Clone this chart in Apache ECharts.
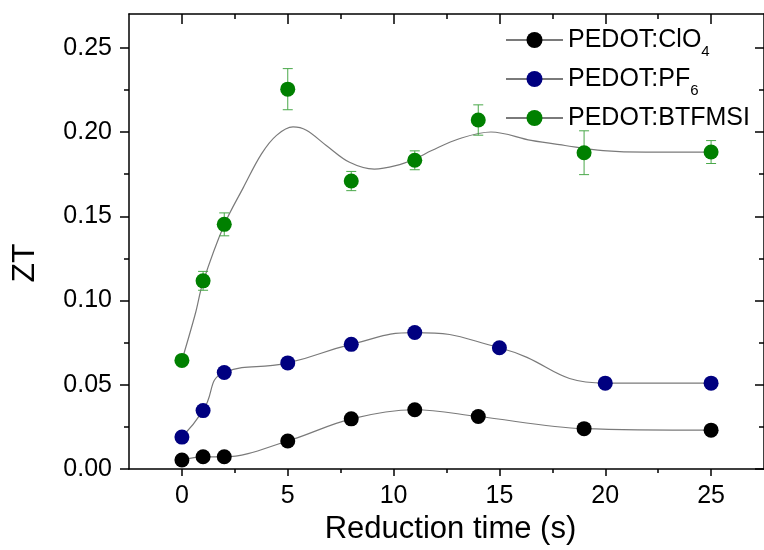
<!DOCTYPE html>
<html><head><meta charset="utf-8">
<script src="https://cdn.jsdelivr.net/npm/echarts@6/dist/echarts.min.js"></script>
<style>html,body{margin:0;padding:0;background:#fff}#c{width:764px;height:550px}</style>
</head><body><div id="c"></div>
<script>
// ---- data ----
const clo4T = [0, 1, 2, 5, 8, 11, 14, 19, 25];
const clo4V = [0.0054, 0.0073, 0.0073, 0.0167, 0.0298, 0.0352, 0.0312, 0.0240, 0.0231];
const pf6T = [0, 1, 2, 5, 8, 11, 15, 20, 25];
const pf6V = [0.0190, 0.0347, 0.0573, 0.0630, 0.0740, 0.0810, 0.0720, 0.0510, 0.0510];
const btfT = [0, 1, 2, 5, 8, 11, 14, 19, 25];
const btfV = [0.0645, 0.1117, 0.1452, 0.2254, 0.1709, 0.1832, 0.2071, 0.1877, 0.1881];
const btfErr = [0, 0.0056, 0.0068, 0.0122, 0.0057, 0.0056, 0.0090, 0.0130, 0.0068];
// fitted curve for BTFMSI
const btfFitT = [0, 0.63, 1, 2, 2.9, 3.76, 4.47, 5.25, 5.88, 6.82, 7.92, 9.09, 10.1, 11, 11.8, 13.1, 14.6, 16.5, 18.1, 19.9, 21.9, 25];
const btfFitV = [0.0645, 0.092, 0.111, 0.145, 0.167, 0.187, 0.198, 0.203, 0.201, 0.192, 0.182, 0.178, 0.180, 0.184, 0.189, 0.196, 0.200, 0.195, 0.192, 0.189, 0.188, 0.188];
const seriesNames = ['PEDOT:ClO4', 'PEDOT:PF6', 'PEDOT:BTFMSI'];
const xTicks = [0, 5, 10, 15, 20, 25];
const xMinorTicks = [2.5, 7.5, 12.5, 17.5, 22.5];
const yTicks = [0, 0.05, 0.10, 0.15, 0.20, 0.25];
const yMinorTicks = [0.025, 0.075, 0.125, 0.175, 0.225];
const xTitle = 'Reduction time (s)';
const yTitle = 'ZT';

const FONT = 'Liberation Sans, Arial, sans-serif';
const AX = '#000';
const pairs = (xs, ys) => xs.map((x, i) => [x, ys[i]]);

function xAx(pos, showLine, ticks, len, inside, labels) {
  return {
    type: 'value', position: pos, min: -2.5, max: 27.5,
    axisLine: { show: showLine, onZero: false, lineStyle: { color: AX, width: 1.5 } },
    axisTick: { show: true, inside: inside, length: len, customValues: ticks, lineStyle: { color: AX, width: 1.5 } },
    axisLabel: labels ? { show: true, customValues: xTicks, margin: 15, fontSize: 25, color: '#000', fontFamily: FONT } : { show: false },
    splitLine: { show: false }
  };
}
function yAx(pos, showLine, ticks, len, inside, labels) {
  return {
    type: 'value', position: pos, min: 0, max: 0.27,
    axisLine: { show: showLine, onZero: false, lineStyle: { color: AX, width: 1.5 } },
    axisTick: { show: true, inside: inside, length: len, customValues: ticks, lineStyle: { color: AX, width: 1.5 } },
    axisLabel: labels ? { show: true, customValues: yTicks, margin: 17, fontSize: 25, color: '#000', fontFamily: FONT, formatter: v => v.toFixed(2) } : { show: false },
    splitLine: { show: false }
  };
}

const xAxes = [
  xAx('bottom', true, xTicks, 7, false, true),
  xAx('bottom', false, xMinorTicks, 4, false, false),
  xAx('top', true, xTicks, 10, true, false),
  xAx('top', false, xMinorTicks, 5, true, false)
];
xAxes[0].name = xTitle;
xAxes[0].nameLocation = 'middle';
xAxes[0].nameGap = 33;
xAxes[0].nameTextStyle = { fontSize: 31, color: '#000', fontFamily: FONT, padding: [0, 0, 0, 8] };

const yAxes = [
  yAx('left', true, yTicks, 9, false, true),
  yAx('left', false, yMinorTicks, 5, false, false),
  yAx('right', true, yTicks, 9, true, false),
  yAx('right', false, yMinorTicks, 5, true, false)
];
yAxes[0].name = yTitle;
yAxes[0].nameLocation = 'middle';
yAxes[0].nameGap = 88;
yAxes[0].nameTextStyle = { fontSize: 32, color: '#000', fontFamily: FONT, padding: [0, 43, 0, 0] };

const chart = echarts.init(document.getElementById('c'), null, { renderer: 'canvas' });
chart.setOption({
  animation: false,
  backgroundColor: '#fff',
  grid: { left: 129, top: 14, width: 637, height: 464, containLabel: false },
  xAxis: xAxes,
  yAxis: yAxes,
  legend: {
    data: seriesNames,
    orient: 'vertical', left: 505, top: 21, padding: 0,
    itemWidth: 57, itemHeight: 20, itemGap: 1,
    textStyle: {
      fontSize: 25, color: '#000', fontFamily: FONT, lineHeight: 38,
      rich: { s: { fontSize: 15, fontFamily: FONT, color: '#000', lineHeight: 15, verticalAlign: 'bottom' } }
    },
    formatter: n => n.replace(/(\d)$/, '{s|$1}')
  },
  series: [
    {
      name: seriesNames[2], type: 'line', smooth: 0.35, symbol: 'circle', showSymbol: false,
      data: pairs(btfFitT, btfFitV),
      itemStyle: { color: '#008000' },
      lineStyle: { color: '#7a7a7a', width: 1.2 }, z: 2
    },
    {
      name: 'btfErr', type: 'custom', z: 3,
      data: btfT.map((t, i) => [t, btfV[i], btfErr[i]]),
      renderItem: function (params, api) {
        const x = api.value(0), y = api.value(1), e = api.value(2);
        if (!e) return null;
        const top = api.coord([x, y + e]), bot = api.coord([x, y - e]);
        const w = 5, st = { stroke: '#4aa84a', lineWidth: 1 };
        return {
          type: 'group', children: [
            { type: 'line', shape: { x1: top[0], y1: top[1], x2: bot[0], y2: bot[1] }, style: st },
            { type: 'line', shape: { x1: top[0] - w, y1: top[1], x2: top[0] + w, y2: top[1] }, style: st },
            { type: 'line', shape: { x1: bot[0] - w, y1: bot[1], x2: bot[0] + w, y2: bot[1] }, style: st }
          ]
        };
      }
    },
    {
      name: 'btfPts', type: 'scatter', symbol: 'circle', symbolSize: 15,
      data: pairs(btfT, btfV), itemStyle: { color: '#008000', opacity: 1 }, z: 4
    },
    {
      name: seriesNames[0], type: 'line', smooth: 0.35, symbol: 'circle', symbolSize: 15, showSymbol: true,
      data: pairs(clo4T, clo4V),
      itemStyle: { color: '#000000' },
      lineStyle: { color: '#7a7a7a', width: 1.2 }, z: 4
    },
    {
      name: seriesNames[1], type: 'line', smooth: 0.5, symbol: 'circle', symbolSize: 15, showSymbol: true,
      data: pairs(pf6T, pf6V),
      itemStyle: { color: '#000080' },
      lineStyle: { color: '#7a7a7a', width: 1.2 }, z: 4
    }
  ]
});
</script>
</body></html>
